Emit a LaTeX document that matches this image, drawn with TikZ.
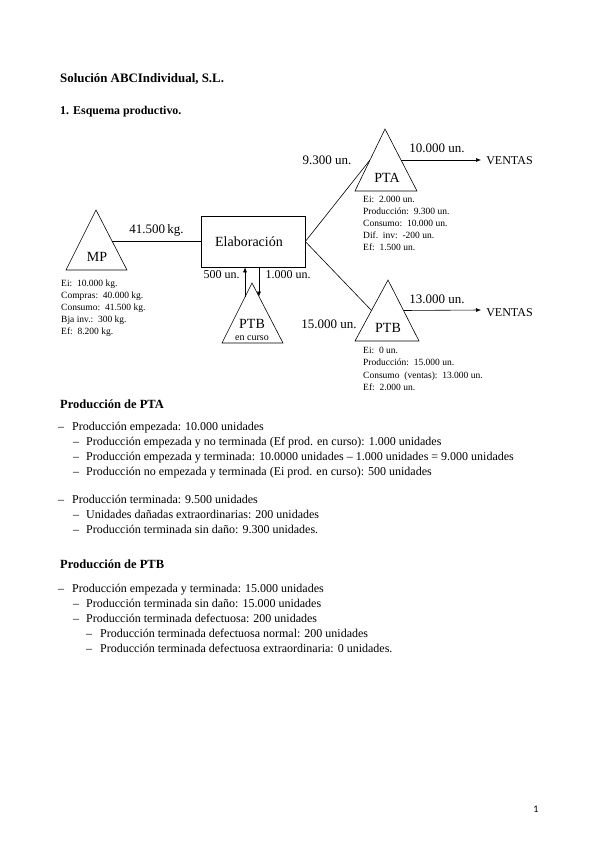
\documentclass[tikz,border=0pt]{standalone}
\usepackage{fontspec}
\setmainfont{Liberation Serif}
\newfontfamily\pagefont{Carlito}
\usetikzlibrary{arrows.meta,calc}
\begin{document}
\begin{tikzpicture}[x=1pt,y=-1pt,
  txt/.style={anchor=base west, inner sep=0pt, font=\fontsize{12}{14}\selectfont},
  hd/.style={anchor=base west, inner sep=0pt, font=\fontsize{12.5}{14}\selectfont\bfseries},
  lbl/.style={anchor=base, inner sep=0pt, font=\fontsize{13}{15}\selectfont},
  big/.style={anchor=base, inner sep=0pt, font=\fontsize{14}{16}\selectfont},
  info/.style={anchor=base west, inner sep=0pt, font=\fontsize{9.5}{11}\selectfont},
  bul/.style={anchor=base west, inner sep=0pt, font=\fontsize{12}{14}\selectfont},
  ln/.style={line width=0.6pt},
  arr/.style={line width=0.6pt, -{Latex[length=5pt,width=4pt]}}]
\useasboundingbox (0,0) rectangle (599,848);
\fill[white] (0,0) rectangle (599,848);

% titles
\node[hd, font=\fontsize{12.9}{14}\selectfont\bfseries] (title) at (60,83) {Solución ABCIndividual, S.L.};
\node[hd, font=\fontsize{11.9}{14}\selectfont\bfseries] (sec1) at (60,114) {1.};
\node[hd, font=\fontsize{11.9}{14}\selectfont\bfseries] (sec1t) at (73,114) {Esquema productivo.};

% triangles
\coordinate (mpA) at (96,210); \coordinate (mpL) at (66,270); \coordinate (mpR) at (127,270);
\coordinate (ptaA) at (385,129); \coordinate (ptaL) at (355,191); \coordinate (ptaR) at (417,191);
\coordinate (ptbA) at (388,280); \coordinate (ptbL) at (355,341); \coordinate (ptbR) at (419,341);
\coordinate (pcA) at (252,283); \coordinate (pcL) at (222,343); \coordinate (pcR) at (283,343);
\draw[ln, line join=miter] (mpA) -- (mpL) -- (mpR) -- cycle;
\draw[ln, line join=miter] (ptaA) -- (ptaL) -- (ptaR) -- cycle;
\draw[ln, line join=miter] (ptbA) -- (ptbL) -- (ptbR) -- cycle;
\draw[ln, line join=miter] (pcA) -- (pcL) -- (pcR) -- cycle;

\node[big] (mp) at (97,261) {MP};
\node[big] (pta) at (387,182) {PTA};
\node[big] (ptb) at (388,332) {PTB};
\node[big] (pc) at (252,328) {PTB};
\node[anchor=base, inner sep=0pt, font=\fontsize{10}{12}\selectfont] (pcc) at (252,340.5) {en curso};

% box
\node[draw, ln, minimum width=104pt, minimum height=51pt, inner sep=0pt] (box) at (253,241.5) {};
\node[big] (elab) at (249,246) {Elaboración};

% connection points
\coordinate (mpE) at ($(mpA)!0.517!(mpR)$);
\coordinate (ptaIn) at ($(ptaA)!0.5!(ptaL)$);
\coordinate (ptaOut) at ($(ptaA)!0.5!(ptaR)$);
\coordinate (ptbIn) at ($(ptbA)!0.5!(ptbL)$);
\coordinate (ptbOut) at ($(ptbA)!0.5!(ptbR)$);
\coordinate (pcIn) at ($(pcA)!0.233!(pcL)$);
\coordinate (pcOut) at ($(pcA)!0.226!(pcR)$);
\coordinate (v1) at (481,160);
\coordinate (v2) at (481,310);

\draw[ln] (mpE) -- (mpE -| box.west);
\draw[ln] (box.east) -- (ptaIn);
\draw[ln] (box.east) -- (ptbIn);
\draw[arr] (ptaOut) -- (v1);
\draw[arr] (ptbOut) -- (v2);
\draw[arr] (pcIn) -- (pcIn |- box.south);
\draw[arr] (pcOut |- box.south) -- (pcOut);

% flow labels
\node[lbl] (l1) at (156.5,233) {41.500\,kg.};
\node[anchor=base, inner sep=0pt, font=\fontsize{12}{14}\selectfont] (l2) at (221.5,278) {500 un.};
\node[anchor=base, inner sep=0pt, font=\fontsize{12}{14}\selectfont] (l3) at (288,278) {1.000 un.};
\node[lbl] (l4) at (327,164) {9.300 un.};
\node[lbl] (l5) at (437,153) {10.000 un.};
\node[anchor=base, inner sep=0pt, font=\fontsize{12}{14}\selectfont] (ven1) at (509.5,164) {VENTAS};
\node[lbl] (l6) at (437,303) {13.000 un.};
\node[anchor=base, inner sep=0pt, font=\fontsize{12}{14}\selectfont] (ven2) at (509.5,316) {VENTAS};
\node[lbl] (l7) at (329,328) {15.000 un.};

% info texts
\node[info] (mi1) at (61,286) {Ei:\ \ 10.000 kg.};
\node[info] (mi2) at (61,298) {Compras:\ \ 40.000 kg.};
\node[info] (mi3) at (61,310) {Consumo:\ \ 41.500 kg.};
\node[info] (mi4) at (61,322) {Bja inv.:\ \ 300 kg.};
\node[info] (mi5) at (61,334) {Ef:\ \ 8.200 kg.};

\node[info] (ai1) at (363,202) {Ei:\ \ 2.000 un.};
\node[info] (ai2) at (363,214) {Producción:\ \ 9.300 un.};
\node[info] (ai3) at (363,226) {Consumo:\ \ 10.000 un.};
\node[info] (ai4) at (363,238) {Dif.\ \ inv:\ \ -200 un.};
\node[info] (ai5) at (363,250) {Ef:\ \ 1.500 un.};

\node[info] (bi1) at (363,353) {Ei:\ \ 0 un.};
\node[info] (bi2) at (363,365) {Producción:\ \ 15.000 un.};
\node[info] (bi3) at (363,378) {Consumo\ \ (ventas):\ \ 13.000 un.};
\node[info] (bi4) at (363,390) {Ef:\ \ 2.000 un.};

% PTA list
\node[hd] (h2) at (60,408) {Producción de PTA};
\node[bul] (d1) at (58,430) {–}; \node[txt] (t1) at (72,430) {Producción empezada: 10.000 unidades};
\node[bul] (d2) at (73,445) {–}; \node[txt] (t2) at (86,445) {Producción empezada y no terminada (Ef prod. en curso): 1.000 unidades};
\node[bul] (d3) at (73,460) {–}; \node[txt] (t3) at (86,460) {Producción empezada y terminada: 10.0000 unidades – 1.000 unidades = 9.000 unidades};
\node[bul] (d4) at (73,475) {–}; \node[txt] (t4) at (86,475) {Producción no empezada y terminada (Ei prod. en curso): 500 unidades};

\node[bul] (d5) at (58,503) {–}; \node[txt] (t5) at (72,503) {Producción terminada: 9.500 unidades};
\node[bul] (d6) at (73,518) {–}; \node[txt] (t6) at (86,518) {Unidades dañadas extraordinarias: 200 unidades};
\node[bul] (d7) at (73,533) {–}; \node[txt] (t7) at (86,533) {Producción terminada sin daño: 9.300 unidades.};

% PTB list
\node[hd] (h3) at (60,568) {Producción de PTB};
\node[bul] (e1) at (58,592) {–}; \node[txt] (u1) at (72,592) {Producción empezada y terminada: 15.000 unidades};
\node[bul] (e2) at (73,607) {–}; \node[txt] (u2) at (86,607) {Producción terminada sin daño: 15.000 unidades};
\node[bul] (e3) at (73,622) {–}; \node[txt] (u3) at (86,622) {Producción terminada defectuosa: 200 unidades};
\node[bul] (e4) at (86,637) {–}; \node[txt] (u4) at (100,637) {Producción terminada defectuosa normal: 200 unidades};
\node[bul] (e5) at (86,652) {–}; \node[txt] (u5) at (100,652) {Producción terminada defectuosa extraordinaria: 0 unidades.};

\node[anchor=base, inner sep=0pt, font=\pagefont\fontsize{10}{12}\selectfont] (pg) at (536,812) {1};
\end{tikzpicture}
\end{document}
